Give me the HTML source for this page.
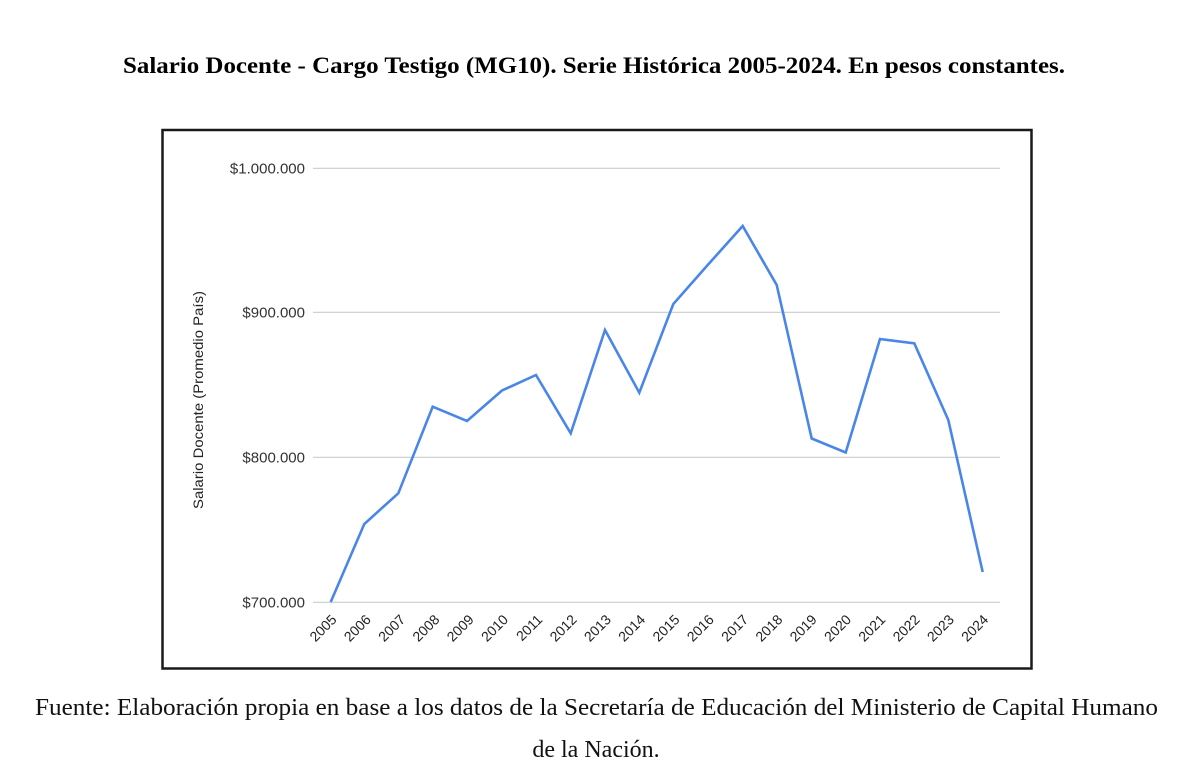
<!DOCTYPE html>
<html>
<head>
<meta charset="utf-8">
<style>
  html, body { margin: 0; padding: 0; background: #ffffff; }
  svg { display: block; }
</style>
</head>
<body>
<svg width="1200" height="783" viewBox="0 0 1200 783" xmlns="http://www.w3.org/2000/svg">
  <rect x="0" y="0" width="1200" height="783" fill="#ffffff"/>

  <!-- Title -->
  <text x="123" y="73" font-family="'Liberation Serif', serif" font-weight="bold" font-size="23" fill="#000" textLength="942" lengthAdjust="spacingAndGlyphs">Salario Docente - Cargo Testigo (MG10). Serie Histórica 2005-2024. En pesos constantes.</text>

  <!-- Frame -->
  <rect x="162.5" y="130" width="869" height="538.5" fill="none" stroke="#1a1a1a" stroke-width="2.5"/>

  <!-- Gridlines -->
  <g stroke="#cccccc" stroke-width="1.2">
    <line x1="313" y1="168.3" x2="1000" y2="168.3"/>
    <line x1="313" y1="312.3" x2="1000" y2="312.3"/>
    <line x1="313" y1="457.3" x2="1000" y2="457.3"/>
    <line x1="313" y1="602.3" x2="1000" y2="602.3"/>
  </g>

  <!-- Y tick labels -->
  <g font-family="'Liberation Sans', Arial, sans-serif" font-size="15" fill="#333" text-anchor="end">
    <text x="305" y="173.5">$1.000.000</text>
    <text x="305" y="317.5">$900.000</text>
    <text x="305" y="462.5">$800.000</text>
    <text x="305" y="607.5">$700.000</text>
  </g>

  <!-- Y axis title -->
  <text transform="translate(203,400) rotate(-90)" text-anchor="middle" font-family="'Liberation Sans', Arial, sans-serif" font-size="14" fill="#222" textLength="218" lengthAdjust="spacingAndGlyphs">Salario Docente (Promedio País)</text>

  <!-- Data line -->
  <polyline fill="none" stroke="#4a86e8" stroke-width="2.6" stroke-linejoin="miter" stroke-linecap="butt"
    points="330.7,602 364.3,524 398.3,493.3 432.7,406.7 467,421 502,390.5 536,375 570.7,433.3 605,330 639.3,392.7 673.3,304 707.7,265 742.7,226 776.7,285 811.7,438.5 845.7,452.5 880,339 914.3,343.3 948.3,420 982.7,572"/>

  <!-- X tick labels -->
  <g font-family="'Liberation Sans', Arial, sans-serif" font-size="14" fill="#222" text-anchor="end">
    <text transform="translate(337.5,620.5) rotate(-45)">2005</text>
    <text transform="translate(371.8,620.5) rotate(-45)">2006</text>
    <text transform="translate(406.1,620.5) rotate(-45)">2007</text>
    <text transform="translate(440.4,620.5) rotate(-45)">2008</text>
    <text transform="translate(474.7,620.5) rotate(-45)">2009</text>
    <text transform="translate(509,620.5) rotate(-45)">2010</text>
    <text transform="translate(543.3,620.5) rotate(-45)">2011</text>
    <text transform="translate(577.6,620.5) rotate(-45)">2012</text>
    <text transform="translate(611.9,620.5) rotate(-45)">2013</text>
    <text transform="translate(646.2,620.5) rotate(-45)">2014</text>
    <text transform="translate(680.5,620.5) rotate(-45)">2015</text>
    <text transform="translate(714.8,620.5) rotate(-45)">2016</text>
    <text transform="translate(749.1,620.5) rotate(-45)">2017</text>
    <text transform="translate(783.4,620.5) rotate(-45)">2018</text>
    <text transform="translate(817.7,620.5) rotate(-45)">2019</text>
    <text transform="translate(852,620.5) rotate(-45)">2020</text>
    <text transform="translate(886.3,620.5) rotate(-45)">2021</text>
    <text transform="translate(920.6,620.5) rotate(-45)">2022</text>
    <text transform="translate(954.9,620.5) rotate(-45)">2023</text>
    <text transform="translate(989.2,620.5) rotate(-45)">2024</text>
  </g>

  <!-- Footer -->
  <text x="35" y="715" font-family="'Liberation Serif', serif" font-size="24" fill="#111" textLength="1123" lengthAdjust="spacingAndGlyphs">Fuente: Elaboración propia en base a los datos de la Secretaría de Educación del Ministerio de Capital Humano</text>
  <text x="596" y="757" text-anchor="middle" font-family="'Liberation Serif', serif" font-size="24" fill="#111">de la Nación.</text>
</svg>
</body>
</html>
